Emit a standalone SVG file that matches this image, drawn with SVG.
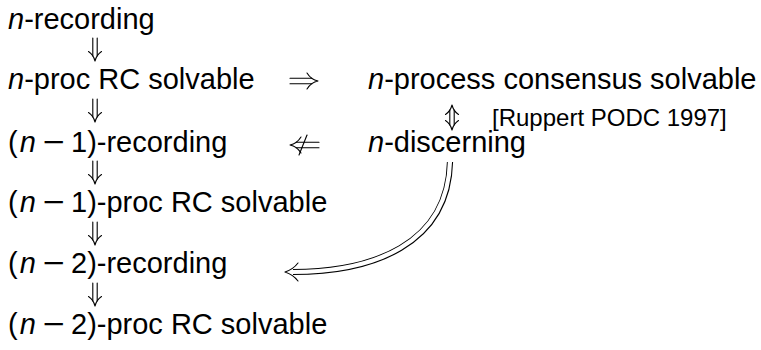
<svg xmlns="http://www.w3.org/2000/svg" xmlns:xlink="http://www.w3.org/1999/xlink" width="761" height="350" viewBox="0 0 761 350">
  <style>
    .t { font-family: "Liberation Sans", Arial, Helvetica, sans-serif; font-size: 29px; fill: #000; }
    .i { font-style: italic; }
    .s { font-size: 24px; }
    .arr { fill: none; stroke: #000; stroke-width: 1.1; stroke-linecap: round; stroke-linejoin: round; }
  </style>
  <defs>
    <!-- double arrow pointing down, origin at top centre -->
    <g id="dn" class="arr">
      <path d="M -2.2 0 V 18 M 2.2 0 V 18"/>
      <path d="M -6.5 13.5 C -3.5 15.5 -1 19 0 23 C 1 19 3.5 15.5 6.5 13.5"/>
    </g>
    <!-- double arrow pointing right, origin at left centre -->
    <g id="rt" class="arr">
      <path d="M 0 -2.8 H 22 M 0 2.8 H 22"/>
      <path d="M 17 -8 C 19.5 -4 23 -1 28 0 C 23 1 19.5 4 17 8"/>
    </g>
    <!-- struck-out double arrow pointing left, origin at tip -->
    <g id="nlt" class="arr">
      <path d="M 29 -2.8 H 6 M 29 2.8 H 6"/>
      <path d="M 11 -8 C 8.5 -4 5 -1 0 0 C 5 1 8.5 4 11 8"/>
      <path d="M 17 -10 L 9 10"/>
    </g>
    <!-- vertical double arrow with two heads, origin at top tip -->
    <g id="ud" class="arr">
      <path d="M -2.2 5 V 20 M 2.2 5 V 20"/>
      <path d="M -6.5 9.5 C -3.5 7.5 -1 4 0 0 C 1 4 3.5 7.5 6.5 9.5"/>
      <path d="M -6.5 15.5 C -3.5 17.5 -1 21 0 25 C 1 21 3.5 17.5 6.5 15.5"/>
    </g>
  </defs>

  <rect width="761" height="350" fill="#fff"/>

  <!-- left column -->
  <g id="n-recording">
    <text class="t" x="8" y="29"><tspan class="i">n</tspan>-recording</text>
  </g>
  <g id="n-proc-rc">
    <text class="t" x="8" y="89"><tspan class="i">n</tspan>-proc RC solvable</text>
  </g>
  <g id="n1-recording">
    <text class="t" x="8" y="152">(<tspan class="i" dx="2">n</tspan></text>
    <text class="t" x="43" y="152" textLength="22" lengthAdjust="spacingAndGlyphs">−</text>
    <text class="t" x="71" y="152">1)-recording</text>
  </g>
  <g id="n1-proc-rc">
    <text class="t" x="8" y="212">(<tspan class="i" dx="2">n</tspan></text>
    <text class="t" x="43" y="212" textLength="22" lengthAdjust="spacingAndGlyphs">−</text>
    <text class="t" x="71" y="212">1)-proc RC solvable</text>
  </g>
  <g id="n2-recording">
    <text class="t" x="8" y="273">(<tspan class="i" dx="2">n</tspan></text>
    <text class="t" x="43" y="273" textLength="22" lengthAdjust="spacingAndGlyphs">−</text>
    <text class="t" x="71" y="273">2)-recording</text>
  </g>
  <g id="n2-proc-rc">
    <text class="t" x="8" y="334">(<tspan class="i" dx="2">n</tspan></text>
    <text class="t" x="43" y="334" textLength="22" lengthAdjust="spacingAndGlyphs">−</text>
    <text class="t" x="71" y="334">2)-proc RC solvable</text>
  </g>

  <!-- right column -->
  <g id="n-consensus">
    <text class="t" x="368" y="89"><tspan class="i">n</tspan>-process consensus solvable</text>
  </g>
  <g id="n-discerning">
    <text class="t" x="368" y="152"><tspan class="i">n</tspan>-discerning</text>
  </g>
  <g id="citation">
    <text class="t s" x="492" y="126">[Ruppert PODC 1997]</text>
  </g>

  <!-- implications -->
  <g id="connectors">
    <use xlink:href="#dn" x="95" y="38"/>
    <use xlink:href="#dn" x="95" y="99"/>
    <use xlink:href="#dn" x="95" y="161"/>
    <use xlink:href="#dn" x="95" y="222"/>
    <use xlink:href="#dn" x="95" y="283"/>
    <use xlink:href="#rt" x="290" y="81"/>
    <use xlink:href="#nlt" x="290" y="145"/>
    <use xlink:href="#ud" x="452" y="105"/>
    <!-- curved double arrow from n-discerning to (n-2)-recording -->
    <path d="M 450 162 C 448 245 372 272 293 272" fill="none" stroke="#000" stroke-width="6.2"/>
    <path d="M 450 161 C 448 245 372 272 292 272" fill="none" stroke="#fff" stroke-width="4.2"/>
    <path class="arr" d="M 298 263 C 295 267 291 270 285 272 C 291 274 295 277 298 281"/>
  </g>
</svg>
